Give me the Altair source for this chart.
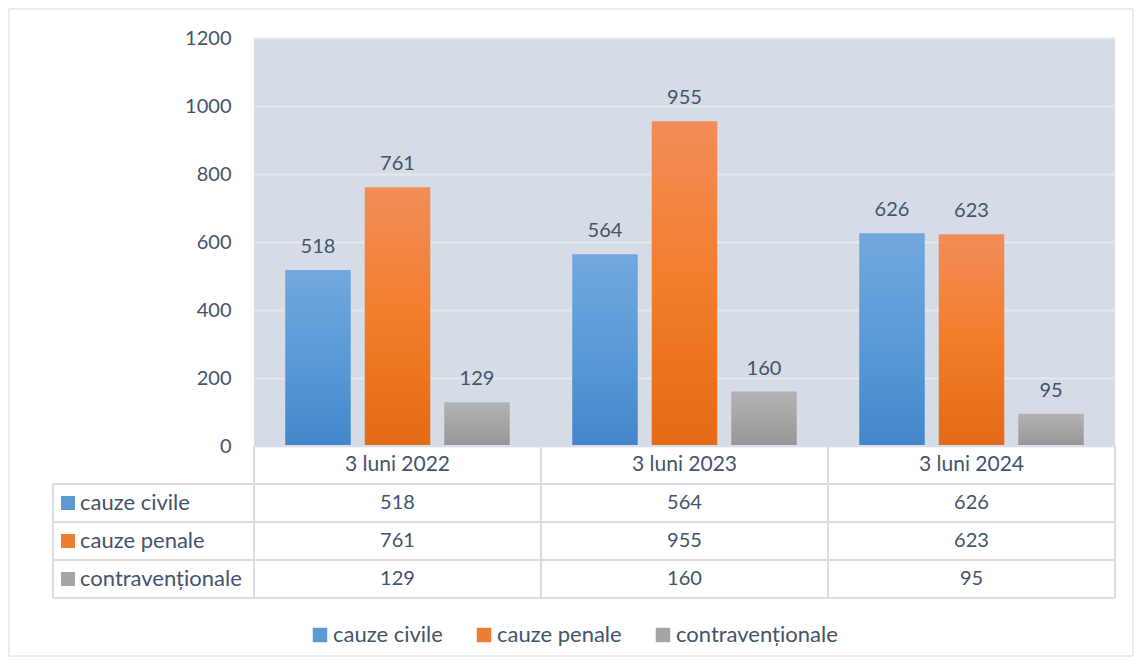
import altair as alt
import pandas as pd

CATEGORIES = ["3 luni 2022", "3 luni 2023", "3 luni 2024"]
SERIES = ["cauze civile", "cauze penale", "contravenționale"]
CIVILE = [518, 564, 626]
PENALE = [761, 955, 623]
CONTRA = [129, 160, 95]
Y_TICKS = [0, 200, 400, 600, 800, 1000, 1200]

TEXT = "#44546a"
FONT = "Lato"
LINE = "#d9dee6"
SOLID = ["#5b9bd5", "#ed7d31", "#a5a5a5"]

rows = []
for s, vals in zip(SERIES, [CIVILE, PENALE, CONTRA]):
    for c, v in zip(CATEGORIES, vals):
        rows.append({"cat": c, "series": s, "value": v})
df = pd.DataFrame(rows)
cats_df = pd.DataFrame({"cat": CATEGORIES})
series_df = pd.DataFrame({"series": SERIES})
one = pd.DataFrame({"k": [0]})

ROWS = ["header"] + SERIES


def grad(c0, c1, c2):
    return {"gradient": "linear",
            "stops": [{"offset": 0, "color": c0},
                      {"offset": 0.5, "color": c1},
                      {"offset": 1, "color": c2}],
            "x1": 0, "x2": 0, "y1": 0, "y2": 1}


GRADS = [grad("#72a8de", "#5a9ad7", "#4387ca"),
         grad("#f28d58", "#f37d2b", "#e36a16"),
         grad("#b3b3b3", "#a5a5a5", "#969696")]

x_enc = alt.X("cat:N", sort=CATEGORIES,
              scale=alt.Scale(domain=CATEGORIES, paddingInner=0, paddingOuter=0),
              axis=None)
xoff_enc = alt.XOffset("series:N", sort=SERIES,
                       scale=alt.Scale(domain=SERIES, paddingInner=0.176, paddingOuter=0.393))
y_enc = alt.Y("value:Q",
              scale=alt.Scale(domain=[0, 1200]),
              axis=alt.Axis(values=Y_TICKS, format="d", grid=True, gridColor="#e4e8ee",
                            gridWidth=2, domain=False, ticks=False, labelPadding=23,
                            labelFont=FONT, labelFontSize=20, labelColor=TEXT, title=None))

base = alt.Chart(df)
bar_layers = []
for s, g in zip(SERIES, GRADS):
    bar_layers.append(
        base.transform_filter(alt.datum.series == s)
        .mark_bar(fill=g)
        .encode(x=x_enc, xOffset=xoff_enc, y=y_enc))

labels = base.mark_text(font=FONT, fontSize=20, color=TEXT, dy=-17,
                        baseline="alphabetic", align="center").encode(
    x=x_enc, xOffset=xoff_enc, y=alt.Y("value:Q"), text="value:Q")

top = alt.layer(*bar_layers, labels).properties(
    width=861, height=408,
    view=alt.ViewBackground(fill="#d6dce5", stroke=None))

# ---------- data table ----------
y_row = alt.Y("series:N", sort=ROWS,
              scale=alt.Scale(domain=ROWS, paddingInner=0, paddingOuter=0), axis=None)

vals_txt = alt.Chart(df).mark_text(font=FONT, fontSize=20, color=TEXT,
                                   baseline="middle", align="center").encode(
    x=x_enc, y=y_row, text="value:Q")

head_df = pd.DataFrame({"cat": CATEGORIES, "series": ["header"] * len(CATEGORIES)})
head_txt = alt.Chart(head_df).mark_text(font=FONT, fontSize=21, color=TEXT,
                                        baseline="middle", align="center").encode(
    x=x_enc, y=y_row, text="cat:N")

row_txt = alt.Chart(series_df).mark_text(font=FONT, fontSize=22, color=TEXT,
                                         baseline="middle", align="left").encode(
    x=alt.value(-174), y=y_row, text="series:N")

swatch = alt.Chart(series_df).mark_square(size=196, opacity=1, filled=True).encode(
    x=alt.value(-186), y=y_row,
    color=alt.Color("series:N", sort=SERIES,
                    scale=alt.Scale(domain=SERIES, range=SOLID),
                    legend=alt.Legend(orient="none", legendX=55, legendY=178,
                                      direction="horizontal", title=None,
                                      labelFont=FONT, labelFontSize=22, labelColor=TEXT,
                                      symbolType="square", symbolSize=210,
                                      symbolStrokeWidth=0, columnPadding=30,
                                      labelOffset=2, padding=0, labelLimit=400)))

vlines = alt.Chart(cats_df).mark_rule(color=LINE, strokeWidth=2).encode(
    x=alt.X("cat:N", sort=CATEGORIES, bandPosition=0,
            scale=alt.Scale(domain=CATEGORIES, paddingInner=0, paddingOuter=0), axis=None),
    y=alt.value(0), y2=alt.value(152))
vright = alt.Chart(one).mark_rule(color=LINE, strokeWidth=2).encode(
    x=alt.value(861), y=alt.value(0), y2=alt.value(152))
vleft = alt.Chart(one).mark_rule(color=LINE, strokeWidth=2).encode(
    x=alt.value(-201), y=alt.value(38), y2=alt.value(152))

hlines = alt.Chart(series_df).mark_rule(color=LINE, strokeWidth=2).encode(
    y=alt.Y("series:N", sort=ROWS, bandPosition=0,
            scale=alt.Scale(domain=ROWS, paddingInner=0, paddingOuter=0), axis=None),
    x=alt.value(-201), x2=alt.value(861))
hbottom = alt.Chart(one).mark_rule(color=LINE, strokeWidth=2).encode(
    y=alt.value(152), x=alt.value(-201), x2=alt.value(861))
htop = alt.Chart(one).mark_rule(color=LINE, strokeWidth=2).encode(
    y=alt.value(0), x=alt.value(0), x2=alt.value(861))

frame = alt.Chart(one).mark_rect(filled=False, stroke="#d9d9d9", strokeWidth=1).encode(
    x=alt.value(-245), x2=alt.value(879), y=alt.value(-437), y2=alt.value(210))

table = alt.layer(frame, htop, hlines, hbottom, vlines, vright, vleft,
                  swatch, row_txt, head_txt, vals_txt).properties(width=861, height=152)

chart = (alt.vconcat(top, table, spacing=0, bounds="flush", padding=0)
         .resolve_scale(color="independent")
         .configure_view(stroke=None))

chart.save("out.html", embed_options={"renderer": "svg", "actions": False})
